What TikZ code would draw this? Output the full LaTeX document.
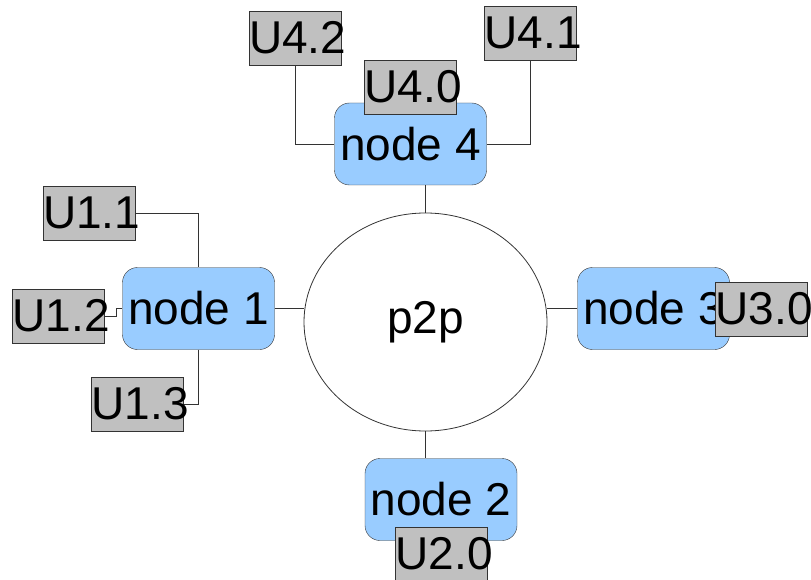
\documentclass[tikz,border=0pt]{standalone}
\usepackage{fontspec}
\setmainfont{Liberation Sans}
\usepackage{xcolor}
\usepackage{tikz}
\usetikzlibrary{shapes.geometric,positioning,calc}
\definecolor{peerblue}{HTML}{99CCFF}
\definecolor{usergray}{HTML}{C0C0C0}
\definecolor{linegray}{HTML}{333333}

\begin{document}
\begin{tikzpicture}[x=1pt, y=-1pt,
  hub/.style={draw=linegray, line width=0.8pt, ellipse, minimum width=243pt, minimum height=218pt, inner sep=0pt, font=\fontsize{46}{50}\selectfont},
  peer/.style={draw=linegray, fill=peerblue, rounded corners=15pt, minimum width=152pt, minimum height=82pt, inner sep=0pt, font=\fontsize{46}{50}\selectfont},
  user/.style={draw=linegray, fill=usergray, text width=92pt, align=left, inner xsep=0pt, inner ysep=0pt, minimum height=54pt, font=\fontsize{46}{50}\selectfont},
  link/.style={draw=linegray, line width=0.8pt},
]
\useasboundingbox (0,0) rectangle (811,580);

% p2p ring
\node[hub] (p2p) at (425.5, 322) {p2p};

% peers
\node[peer] (n1) at (198.5, 308.5) {node 1};
\node[peer] (n2) at (441, 499.5) {node 2};
\node[peer] (n3) at (653.5, 308.5) {node 3};
\node[peer] (n4) at (410.5, 144) {node 4};

\draw[link] (n1.east) -- (n1.east -| p2p.west);
\draw[link] (n3.west) -- (n3.west -| p2p.east);
\draw[link] (p2p.north) -- (p2p.north |- n4.south);
\draw[link] (p2p.south) -- (p2p.south |- n2.north);

% users of node 1
\node[user] (u11) at (89, 213) {U1.1};
\node[user] (u12) at (58.5, 316) {U1.2};
\node[user] (u13) at (137.5, 404) {U1.3};
\draw[link] (u11.east) -| (n1.north);
\draw[link] (u12.east) -- ++(12,0) |- (n1.west);
\draw[link] (n1.south) |- (u13.east);

% users of node 4
\node[user] (u42) at (295, 38) {U4.2};
\node[user] (u41) at (530.5, 33) {U4.1};
\draw[link] (u42.south) |- (n4.west);
\draw[link] (u41.south) |- (n4.east);
\node[user] (u40) at (410.5, 87) {U4.0};

% users of node 3 and node 2
\node[user] (u30) at (761.5, 309) {U3.0};
\node[user] (u20) at (441.5, 554) {U2.0};

\end{tikzpicture}
\end{document}
